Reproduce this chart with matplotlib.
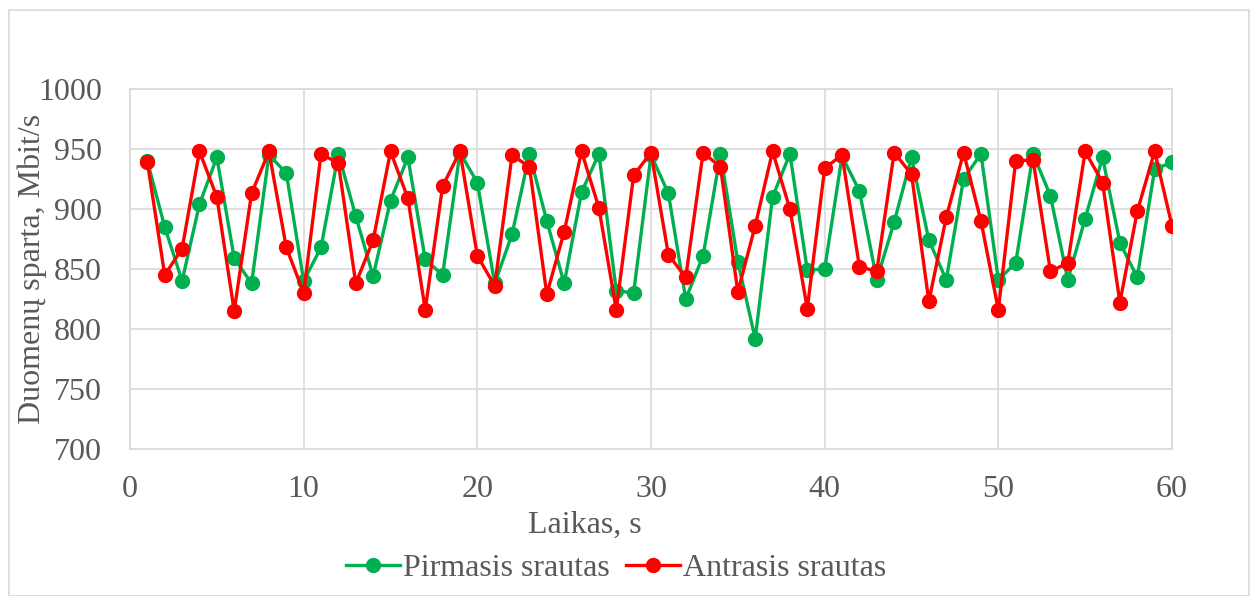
import matplotlib
matplotlib.use('Agg')
import matplotlib.pyplot as plt
from matplotlib.patches import Rectangle

plt.rcParams['font.family'] = ['Liberation Serif', 'DejaVu Serif']

seconds = list(range(1, 61))
pirmasis = [940, 885, 840, 904, 943, 859, 838, 945, 930, 840,
            868, 946, 894, 844, 907, 943, 858, 845, 947, 922,
            838, 879, 946, 890, 838, 914, 946, 832, 830, 945,
            913, 825, 861, 946, 856, 792, 910, 946, 849, 850,
            944, 915, 841, 889, 943, 874, 841, 925, 946, 841,
            855, 946, 911, 841, 892, 943, 872, 843, 933, 939]
antrasis = [939, 845, 867, 948, 910, 815, 913, 948, 868, 830,
            946, 938, 838, 874, 948, 909, 816, 919, 948, 861,
            836, 945, 935, 829, 881, 948, 901, 816, 928, 947,
            862, 843, 947, 935, 831, 886, 948, 900, 817, 934,
            945, 852, 848, 947, 929, 823, 893, 947, 890, 816,
            940, 941, 848, 855, 948, 922, 822, 898, 948, 886]

W, H = 1256, 596
fig = plt.figure(figsize=(W / 100, H / 100), dpi=100)
ax = fig.add_axes([130 / W, 1 - 449 / H, (1172 - 130) / W, (449 - 89) / H])

# chart-area border
fig.patches.append(Rectangle((9 / W, 0.0), (1249 - 9) / W, 1 - 10 / H,
                             transform=fig.transFigure, fill=False,
                             edgecolor='#D9D9D9', linewidth=1.2))

ax.plot(seconds, pirmasis, color='#00B050', linewidth=2.4, marker='o',
        markersize=10, label='Pirmasis srautas', zorder=3)
ax.plot(seconds, antrasis, color='#FF0000', linewidth=2.4, marker='o',
        markersize=10, label='Antrasis srautas', zorder=4)

ax.set_xlim(0, 60)
ax.set_ylim(700, 1000)
ax.set_xticks(range(0, 61, 10))
ax.set_yticks(range(700, 1001, 50))
ax.grid(True, color='#D9D9D9', linewidth=1.2)
ax.set_axisbelow(True)
for s in ax.spines.values():
    s.set_color('#D9D9D9')
    s.set_linewidth(1.2)
ax.tick_params(length=0, labelsize=23, colors='#595959')
ax.tick_params(axis='y', pad=20)
ax.tick_params(axis='x', pad=19)

ax.set_xlabel('Laikas, s', fontsize=23, color='#595959', va='center')
ax.xaxis.set_label_coords((585 - 130) / 1042, (449 - 525) / 360)
ax.set_ylabel('Duomenų sparta, Mbit/s', fontsize=23, color='#595959', va='center')
ax.yaxis.set_label_coords((32 - 130) / 1042, 0.5)

ax.legend(loc='center', bbox_to_anchor=((616 - 130) / 1042, (449 - 568) / 360), ncol=2,
          frameon=False, fontsize=23, handlelength=1.7, columnspacing=0.5,
          handletextpad=0.1, labelcolor='#595959')

fig.savefig('out.png', dpi=100)
